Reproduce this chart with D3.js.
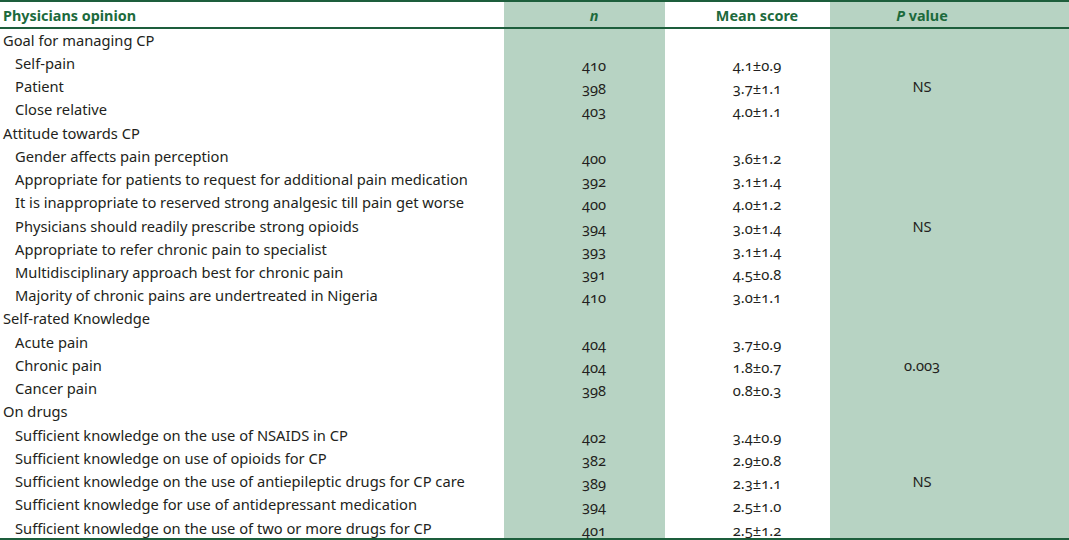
<!DOCTYPE html>
<html><head><meta charset="utf-8">
<script src="https://cdn.jsdelivr.net/npm/d3@7"></script>
<style>
html,body{margin:0;padding:0;background:#fff;}
text{font-family:"Noto Sans",sans-serif;font-size:14.7px;fill:#231f20;font-feature-settings:"onum" 1;}
.hdr{font-weight:bold;fill:#1c6a3c;font-size:14.4px;}
</style></head><body>
<svg id="chart" width="1069" height="540"></svg>
<script>
const headers = ["Physicians opinion", "n", "Mean score", "P value"];
const groups = ["Goal for managing CP", "Attitude towards CP", "Self-rated Knowledge", "On drugs"];
const groupPValues = ["NS", "NS", "0.003", "NS"];
const items = [
  ["Self-pain", "Patient", "Close relative"],
  ["Gender affects pain perception",
   "Appropriate for patients to request for additional pain medication",
   "It is inappropriate to reserved strong analgesic till pain get worse",
   "Physicians should readily prescribe strong opioids",
   "Appropriate to refer chronic pain to specialist",
   "Multidisciplinary approach best for chronic pain",
   "Majority of chronic pains are undertreated in Nigeria"],
  ["Acute pain", "Chronic pain", "Cancer pain"],
  ["Sufficient knowledge on the use of NSAIDS in CP",
   "Sufficient knowledge on use of opioids for CP",
   "Sufficient knowledge on the use of antiepileptic drugs for CP care",
   "Sufficient knowledge for use of antidepressant medication",
   "Sufficient knowledge on the use of two or more drugs for CP"]
];
const nValues = [
  [410, 398, 403],
  [400, 392, 400, 394, 393, 391, 410],
  [404, 404, 398],
  [402, 382, 389, 394, 401]
];
const meanScores = [
  ["4.1±0.9", "3.7±1.1", "4.0±1.1"],
  ["3.6±1.2", "3.1±1.4", "4.0±1.2", "3.0±1.4", "3.1±1.4", "4.5±0.8", "3.0±1.1"],
  ["3.7±0.9", "1.8±0.7", "0.8±0.3"],
  ["3.4±0.9", "2.9±0.8", "2.3±1.1", "2.5±1.0", "2.5±1.2"]
];

// build row table
const rows = [];
const pCells = [];
groups.forEach((g, gi) => {
  rows.push({type: "group", label: g});
  const start = rows.length;
  items[gi].forEach((it, i) => {
    rows.push({type: "item", label: it, n: nValues[gi][i], mean: meanScores[gi][i]});
  });
  pCells.push({p: groupPValues[gi], first: start, last: rows.length - 1});
});

const svg = d3.select("#chart");
const W = 1069, H = 540;
const green = "#b7d3c3";
const lineColor = "#1d5e3c";

const y = d3.scaleBand().domain(d3.range(rows.length)).range([29, 540]);
const colBands = [{x0: 504, x1: 665}, {x0: 830, x1: 1069}];
const colX = {label: 3, item: 15, n: 594, mean: 757, p: 922};

// green column bands
svg.selectAll("rect.band").data(colBands).join("rect")
  .attr("class", "band")
  .attr("x", d => d.x0).attr("y", 0)
  .attr("width", d => d.x1 - d.x0).attr("height", H)
  .attr("fill", green);

// rules
svg.selectAll("line.rule").data([1, 28, 539]).join("line")
  .attr("class", "rule")
  .attr("x1", 0).attr("x2", W)
  .attr("y1", d => d).attr("y2", d => d)
  .attr("stroke", lineColor).attr("stroke-width", 2);

// header
const hy = 16;
svg.append("text").attr("class", "hdr").attr("x", colX.label).attr("y", hy)
  .attr("dy", "0.35em").text(headers[0]);
svg.append("text").attr("class", "hdr").attr("x", colX.n).attr("y", hy)
  .attr("dy", "0.35em").attr("text-anchor", "middle").attr("font-style", "italic").text(headers[1]);
svg.append("text").attr("class", "hdr").attr("x", colX.mean).attr("y", hy)
  .attr("dy", "0.35em").attr("text-anchor", "middle").text(headers[2]);
const ph = svg.append("text").attr("class", "hdr").attr("x", colX.p).attr("y", hy)
  .attr("dy", "0.35em").attr("text-anchor", "middle");
ph.append("tspan").attr("font-style", "italic").text(headers[3].split(" ")[0]);
ph.append("tspan").text(" " + headers[3].split(" ")[1]);

const cy = i => y(i) + y.bandwidth() / 2;

// row labels
svg.selectAll("text.lbl").data(rows).join("text")
  .attr("class", "lbl")
  .attr("x", d => d.type === "group" ? colX.label : colX.item)
  .attr("y", (d, i) => cy(i)).attr("dy", "0.35em")
  .text(d => d.label);

const itemRows = rows.map((d, i) => ({...d, i})).filter(d => d.type === "item");
svg.selectAll("text.nval").data(itemRows).join("text")
  .attr("x", colX.n).attr("y", d => cy(d.i) + 2).attr("dy", "0.35em")
  .attr("text-anchor", "middle").text(d => d.n);
svg.selectAll("text.mval").data(itemRows).join("text")
  .attr("x", colX.mean).attr("y", d => cy(d.i) + 2).attr("dy", "0.35em")
  .attr("text-anchor", "middle").text(d => d.mean);
svg.selectAll("text.pval").data(pCells).join("text")
  .attr("x", colX.p).attr("y", d => (cy(d.first) + cy(d.last)) / 2).attr("dy", "0.35em")
  .attr("text-anchor", "middle").text(d => d.p);
</script>
</body></html>
